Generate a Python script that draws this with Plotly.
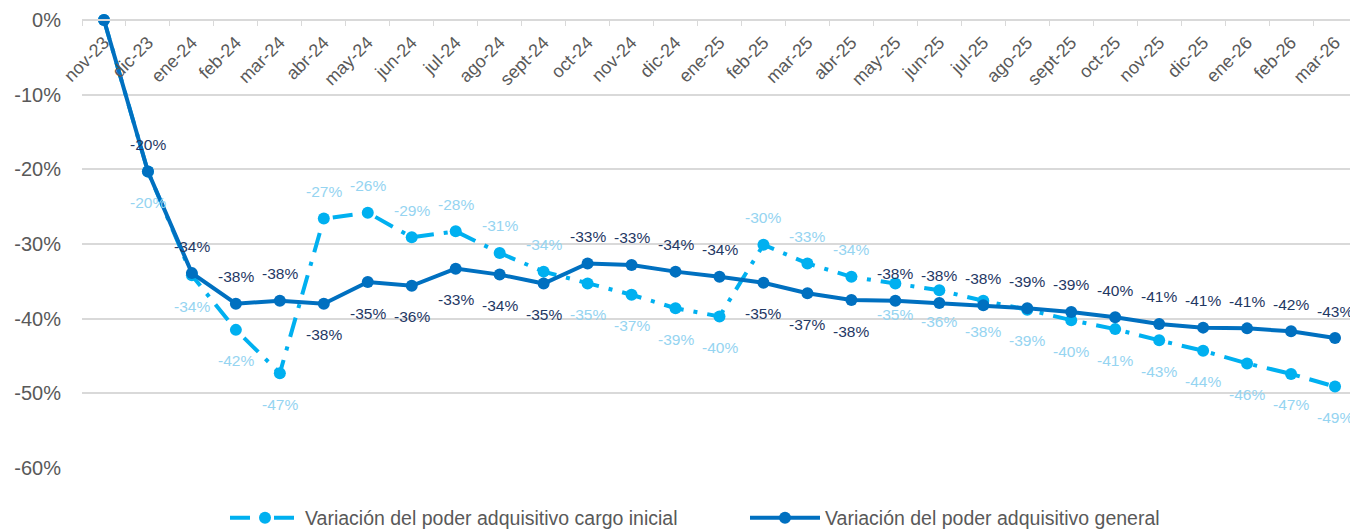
import plotly.graph_objects as go

months = ["nov-23", "dic-23", "ene-24", "feb-24", "mar-24", "abr-24", "may-24", "jun-24",
          "jul-24", "ago-24", "sept-24", "oct-24", "nov-24", "dic-24", "ene-25", "feb-25",
          "mar-25", "abr-25", "may-25", "jun-25", "jul-25", "ago-25", "sept-25", "oct-25",
          "nov-25", "dic-25", "ene-26", "feb-26", "mar-26"]

cargo_inicial = [0.0, -20.3, -34.2, -41.5, -47.3, -26.6, -25.8, -29.1,
                 -28.3, -31.2, -33.7, -35.3, -36.8, -38.6, -39.7, -30.1,
                 -32.6, -34.4, -35.3, -36.2, -37.6, -38.8, -40.2, -41.4,
                 -42.9, -44.3, -46.0, -47.4, -49.1]

general = [0.0, -20.3, -33.9, -38.0, -37.6, -38.0, -35.1, -35.6,
           -33.3, -34.1, -35.3, -32.6, -32.8, -33.7, -34.4, -35.2,
           -36.6, -37.5, -37.6, -37.9, -38.2, -38.6, -39.1, -39.8,
           -40.7, -41.2, -41.3, -41.7, -42.6]

y_ticks = [0, -10, -20, -30, -40, -50, -60]
y_tick_labels = ["0%", "-10%", "-20%", "-30%", "-40%", "-50%", "-60%"]

# label placement: "a" = above the point, "b" = below, "" = no label
place_cargo = ["", "b", "b", "b", "b", "a", "a", "a", "a", "a", "a", "b", "b", "b", "b",
               "a", "a", "a"] + ["b"] * 11
place_general = ["", "a", "a", "a", "a", "b", "b", "b", "b", "b", "b", "a", "a", "a", "a",
                 "b", "b", "b"] + ["a"] * 11

FONT = "Arial, Liberation Sans, sans-serif"
C_CARGO, C_GEN = "#00B0F0", "#0070C0"
L_CARGO, L_GEN = "#95D4F1", "#1F3864"

fig = go.Figure()
fig.add_trace(go.Scatter(
    x=months, y=cargo_inicial, name="Variación del poder adquisitivo cargo inicial",
    mode="lines+markers",
    line=dict(color=C_CARGO, width=4, dash="20px,10px,4px,10px"),
    marker=dict(color=C_CARGO, size=12), cliponaxis=False,
))
fig.add_trace(go.Scatter(
    x=months, y=general, name="Variación del poder adquisitivo general",
    mode="lines+markers",
    line=dict(color=C_GEN, width=4),
    marker=dict(color=C_GEN, size=12), cliponaxis=False,
))

annotations = []
for vals, places, col in ((cargo_inicial, place_cargo, L_CARGO), (general, place_general, L_GEN)):
    for m, v, p in zip(months, vals, places):
        if not p:
            continue
        annotations.append(dict(
            x=m, y=v, xref="x", yref="y", text=f"{v:.0f}%", showarrow=False,
            yanchor="middle", xanchor="center", yshift=27 if p == "a" else -31,
            font=dict(family=FONT, size=15.5, color=col),
        ))

# the page body adds an 8px offset, so the figure is sized to fit the window
fig.update_layout(
    width=1350, height=523,
    margin=dict(l=74, r=1, t=12, b=63, autoexpand=False),
    paper_bgcolor="white", plot_bgcolor="white",
    font=dict(family=FONT, color="#595959"),
    showlegend=True,
    annotations=annotations,
    legend=dict(orientation="h", x=0.52, xanchor="center", y=-0.112, yanchor="middle",
                font=dict(size=19.5, color="#595959"), itemwidth=70, entrywidth=435),
    xaxis=dict(
        type="category", anchor="free", position=1, side="bottom", automargin=False,
        tickangle=-45, tickfont=dict(size=18, color="#595959"),
        ticks="outside", ticklen=5, tickcolor="#D9D9D9", tickson="boundaries",
        ticklabelstandoff=4,
        showline=True, linecolor="#D9D9D9", linewidth=2, showgrid=False,
        range=[-0.5, len(months) - 0.5],
    ),
    yaxis=dict(
        range=[-60, 0], tickvals=y_ticks, ticktext=y_tick_labels, automargin=False,
        tickfont=dict(size=20, color="#595959"),
        showgrid=True, gridcolor="#D9D9D9", gridwidth=2,
        zeroline=False, showline=False, ticklabelstandoff=20,
    ),
)

fig.write_html("out.html")
